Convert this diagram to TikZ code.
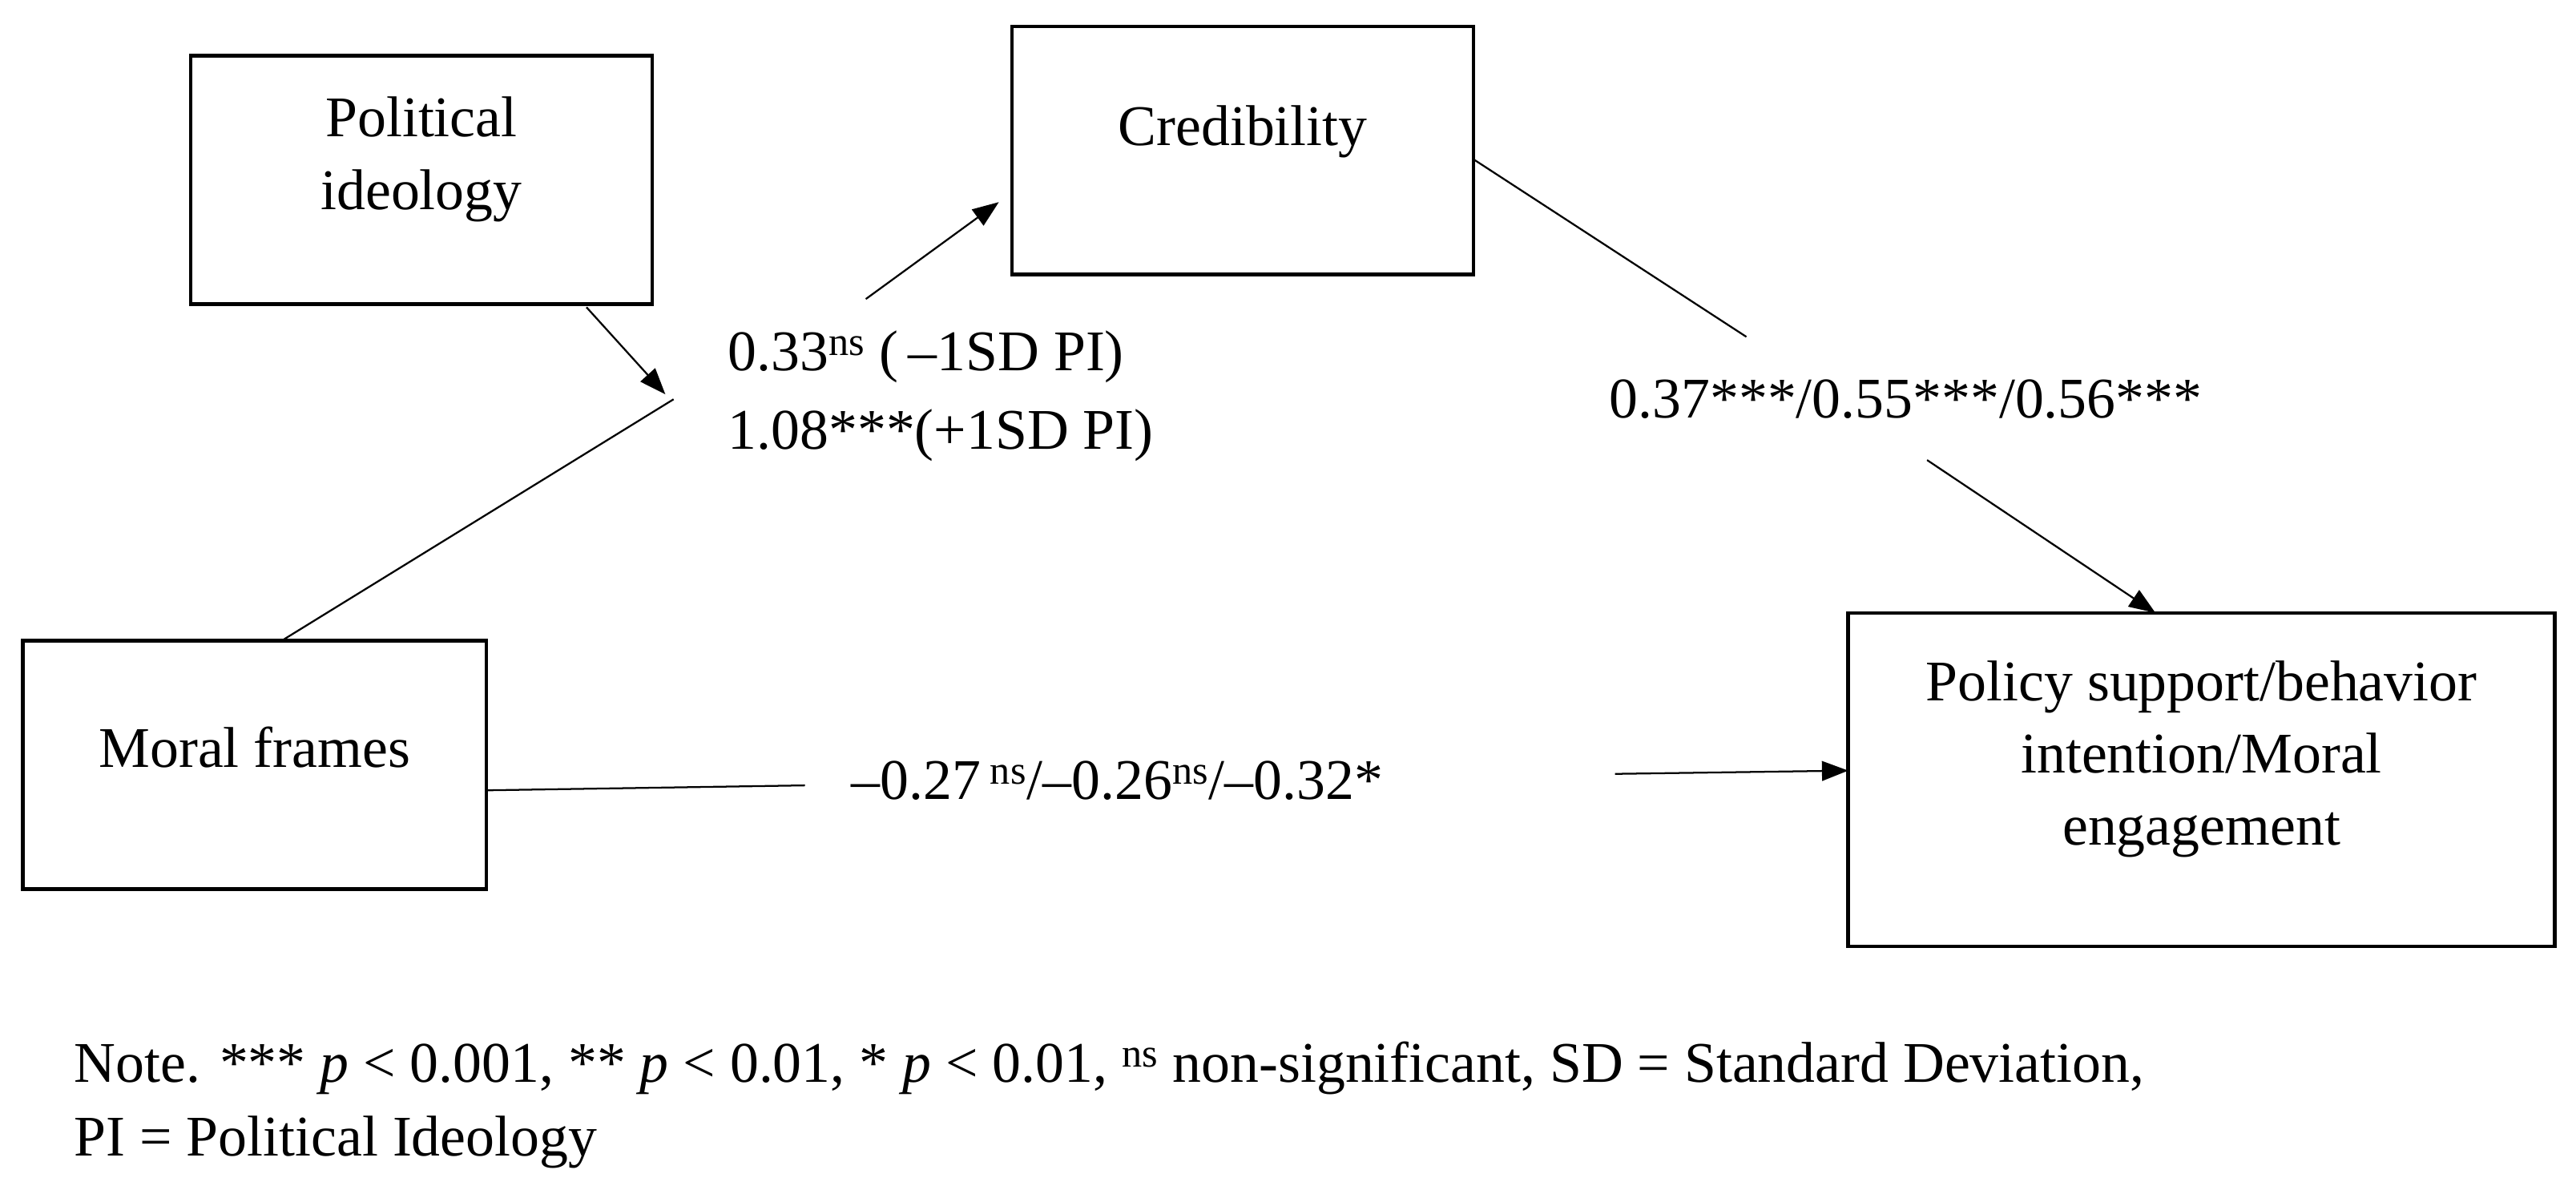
\documentclass[tikz,border=0pt]{standalone}
\usepackage{fontspec}
\setmainfont{Liberation Serif}
\usetikzlibrary{arrows.meta}
\begin{document}
\begin{tikzpicture}[x=1pt,y=-1pt,
  box/.style={draw,line width=2.2pt,inner sep=0pt},
  txt/.style={font=\fontsize{35}{44}\selectfont,align=center,inner sep=0pt},
  ln/.style={line width=1.1pt},
  arr/.style={line width=1.1pt,-{Triangle[length=16pt,width=12pt]}}]
\useasboundingbox (0,0) rectangle (1568,729);
\node[box,minimum width=281,minimum height=151] (pi) at (256.5,109.5) {};
\node[txt] at (256.5,97) {Political\\ideology};
\node[box,minimum width=281,minimum height=151] (cr) at (756.5,91.5) {};
\node[txt] at (756.5,80) {Credibility};
\node[box,minimum width=282,minimum height=151] (mf) at (155,465.5) {};
\node[txt] at (155,455) {Moral frames};
\node[box,minimum width=430,minimum height=203] (ps) at (1340,474.5) {};
\node[txt] at (1340,462) {Policy support/behavior\\intention/Moral\\engagement};
\coordinate (m1) at (173,389);
\coordinate (m2) at (410,243);
\coordinate (c0) at (527,182);
\coordinate (c1) at (608,123);
\coordinate (p0) at (357,187);
\coordinate (p1) at (405,240);
\coordinate (k0) at (897,97);
\coordinate (k1) at (1063,205);
\coordinate (k2) at (1173,280);
\coordinate (k3) at (1312,373);
\coordinate (h0) at (296,481);
\coordinate (h1) at (490,478);
\coordinate (h2) at (983,471);
\coordinate (h3) at (1125,469);
\draw[ln] (m1) -- (m2);
\draw[arr] (c0) -- (c1);
\draw[arr] (p0) -- (p1);
\draw[ln] (k0) -- (k1);
\draw[arr] (k2) -- (k3);
\draw[ln] (h0) -- (h1);
\draw[arr] (h2) -- (h3);
\node[txt,anchor=west] (l1) at (443,217) {0.33\textsuperscript{ns} (\,–1SD PI)};
\node[txt,anchor=west] (l2) at (443,265) {1.08***(+1SD PI)};
\node[txt] (l3) at (1160,243) {0.37***/0.55***/0.56***};
\node[txt] (l4) at (680,475) {–0.27\,\textsuperscript{ns}/–0.26\textsuperscript{ns}/–0.32*};
\node[txt,anchor=west] (n1) at (45,650) {Note. *** \textit{p} < 0.001, ** \textit{p} < 0.01, * \textit{p} < 0.01, \textsuperscript{ns} non-significant, SD = Standard Deviation,};
\node[txt,anchor=west] (n2) at (45,695) {PI = Political Ideology};
\end{tikzpicture}
\end{document}
